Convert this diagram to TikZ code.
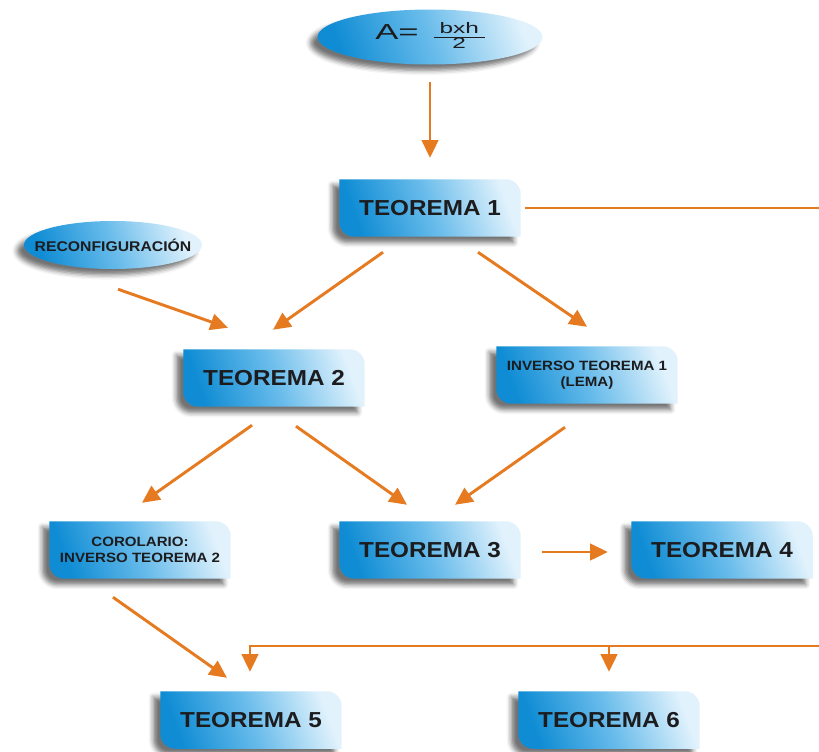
\documentclass[tikz,border=0pt]{standalone}
\usepackage{fontspec}
\setmainfont{Liberation Sans}
\newfontfamily\letra{Liberation Sans}[FakeStretch=1.12]
\newfontfamily\ancha{Liberation Sans}[FakeStretch=1.6]
\usepackage{tikz}
\usetikzlibrary{shapes,arrows.meta,positioning,calc,shadows.blur}
\definecolor{azulcaja}{RGB}{15,140,212}
\definecolor{azulmedio}{RGB}{105,188,235}
\definecolor{celeste}{RGB}{225,242,252}
\definecolor{naranja}{RGB}{230,122,32}
\definecolor{textocaja}{RGB}{28,28,30}
\pgfdeclarelayer{fondo}
\pgfsetlayers{fondo,main}
\tikzset{
  degradado/.style={left color=azulcaja, right color=celeste, middle color=azulmedio, shading angle=110},
  sombra/.style={blur shadow={shadow xshift=-6pt, shadow yshift=-5pt, shadow blur radius=4pt, shadow opacity=55}},
  caja/.style={minimum width=5.43cm, minimum height=1.71cm, inner sep=0pt, align=center, text=textocaja,
    font=\letra\bfseries\fontsize{18.5}{20}\selectfont},
  cajachica/.style={caja, font=\letra\bfseries\fontsize{11.5}{14}\selectfont},
  elipse/.style={ellipse, degradado, sombra, inner sep=0pt, align=center, text=textocaja},
  flecha/.style={draw=naranja, line width=2.5pt, -{Triangle[length=15pt,width=14pt]}},
  linea/.style={draw=naranja, line width=2.5pt},
}

\begin{document}
\begin{tikzpicture}[x=0.03cm, y=0.03cm]
  \useasboundingbox (0,0) rectangle (819,-751);

  % nodos
  \node[elipse, minimum width=6.75cm, minimum height=1.65cm, font=\ancha] (area) at (430,-37)
    {\makebox[0pt]{{\fontsize{18.5}{20}\selectfont A=}\hspace{0.45cm}{\setlength{\arrayrulewidth}{1pt}%
     \renewcommand\arraystretch{0.85}%
     \begin{tabular}{@{\hspace{5pt}}c@{\hspace{5pt}}}\fontsize{13}{14}\selectfont bxh\\\hline\fontsize{13}{14}\selectfont 2\end{tabular}}}};
  \node[caja] (teo1) at (430,-208) {TEOREMA 1};
  \node[elipse, minimum width=5.34cm, minimum height=1.44cm,
    font=\letra\bfseries\fontsize{12}{13}\selectfont] (reconf) at (113,-245) {\makebox[0pt]{RECONFIGURACIÓN}};
  \node[caja] (teo2) at (274,-378) {TEOREMA 2};
  \node[cajachica] (inv1) at (587,-375) {INVERSO TEOREMA 1\\(LEMA)};
  \node[cajachica] (coro) at (140,-550) {COROLARIO:\\INVERSO TEOREMA 2};
  \node[caja] (teo3) at (430,-550) {TEOREMA 3};
  \node[caja] (teo4) at (722,-550) {TEOREMA 4};
  \node[caja] (teo5) at (251,-720) {TEOREMA 5};
  \node[caja] (teo6) at (609,-720) {TEOREMA 6};

  % cajas con dos esquinas redondeadas
  \begin{pgfonlayer}{fondo}
    \foreach \c in {teo1,teo2,inv1,coro,teo3,teo4,teo5,teo6}
      \path[degradado, sombra] (\c.north west) -- ([xshift=-0.45cm]\c.north east)
        arc[start angle=90, end angle=0, radius=0.45cm] -- (\c.south east)
        -- ([xshift=0.45cm]\c.south west) arc[start angle=270, end angle=180, radius=0.45cm] -- cycle;
  \end{pgfonlayer}

  % flechas
  \draw[flecha] ($(area.south)+(0,-17.5)$) -- ($(teo1.north)+(0,21.5)$);
  \draw[flecha] ($(reconf.south)+(5,-20)$) -- ($(teo2.north)+(-46,21.5)$);
  \draw[flecha] ($(teo1.south)+(-47,-15.5)$) -- ($(teo2.north)+(-1,19.5)$);
  \draw[flecha] ($(teo1.south)+(48,-15.5)$) -- ($(inv1.north)+(0,19.5)$);
  \draw[flecha] ($(teo2.south)+(-22,-18.5)$) -- ($(coro.north)+(2,18.5)$);
  \draw[flecha] ($(teo2.south)+(22,-19.5)$) -- ($(teo3.north)+(-23,16.5)$);
  \draw[flecha] ($(inv1.south)+(-22,-23.5)$) -- ($(teo3.north)+(25,16.5)$);
  \draw[flecha] ($(teo3.east)+(21.5,-2)$) -- ($(teo4.west)+(-23.5,-2)$);
  \draw[flecha] ($(coro.south)+(-27,-18.5)$) -- ($(teo5.north)+(-24,13.5)$);

  % lineas al borde derecho
  \coordinate (borde1) at (819,-208);
  \coordinate (borde2) at (819,-646);
  \draw[linea] ($(teo1.east)+(4,0)$) -- (borde1);
  \draw[flecha] (borde2) -| ($(teo5.north)+(-1,19.5)$);
  \draw[flecha] (teo6.north |- borde2) -- ($(teo6.north)+(0,19.5)$);
\end{tikzpicture}
\end{document}
